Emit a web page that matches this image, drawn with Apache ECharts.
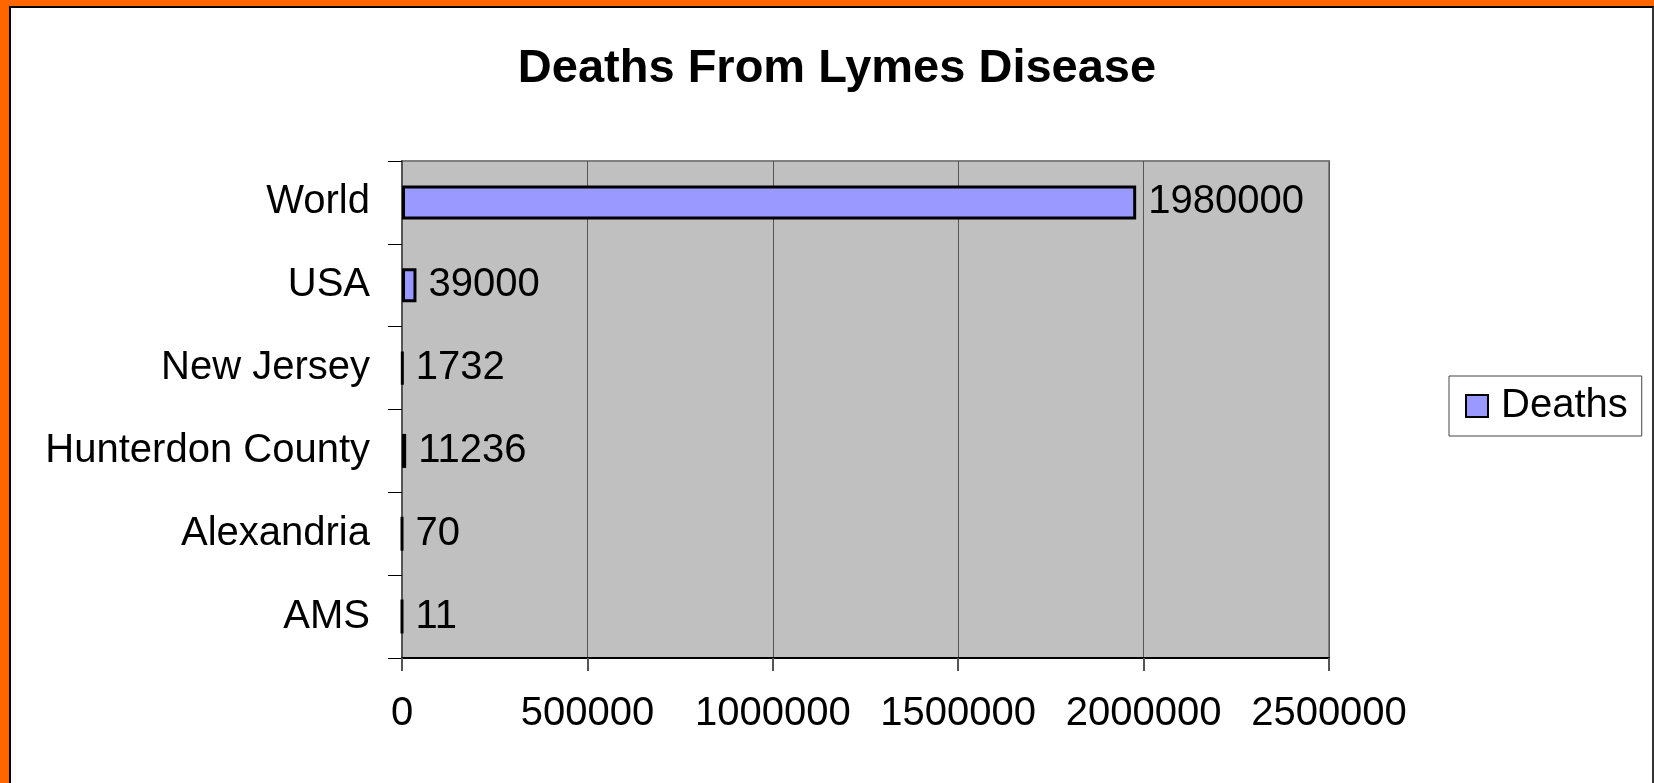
<!DOCTYPE html>
<html lang="en">
<head>
    <meta charset="UTF-8">
    <title>Deaths From Lymes Disease</title>
    <script src="https://cdn.jsdelivr.net/npm/echarts@6/dist/echarts.min.js"></script>
    <style>
        *{
            margin: 0;
            padding: 0;
        }
        html,body{
            width: 1654px;
            height: 783px;
            overflow: hidden;
            background: #fff;
        }
        .frame{
            position: absolute;
            left: 0;
            top: 0;
            width: 1654px;
            height: 783px;
            box-sizing: border-box;
            border-left: 9px solid #ff6600;
            border-top: 6px solid #ff6600;
        }
        .inner{
            width: 100%;
            height: 100%;
            box-sizing: border-box;
            border-left: 2px solid #000;
            border-top: 2px solid #000;
            border-right: 2px solid #333;
        }
        .container{
            position: absolute;
            left: 0;
            top: 0;
            width: 1654px;
            height: 783px;
        }
    </style>
</head>
<body>
<div class="frame"><div class="inner"></div></div>
<div class="container"></div>
<script>
    let categories = ['World', 'USA', 'New Jersey', 'Hunterdon County', 'Alexandria', 'AMS'];
    let deaths = [1980000, 39000, 1732, 11236, 70, 11];
    let xTicks = [0, 500000, 1000000, 1500000, 2000000, 2500000];

    let font = '"Liberation Sans", Arial, sans-serif';
    let chart = echarts.init(document.querySelector('.container'));

    let option = {
        animation: false,
        textStyle: {fontFamily: font},
        title: {
            text: 'Deaths From Lymes Disease',
            left: 832,
            textAlign: 'center',
            top: 41,
            textStyle: {
                fontFamily: font,
                fontWeight: 'bold',
                fontSize: 47,
                color: '#000'
            }
        },
        legend: {
            data: ['Deaths'],
            left: 1449,
            top: 376,
            orient: 'vertical',
            padding: [10, 14, 10, 16],
            borderColor: '#444',
            borderWidth: 1,
            backgroundColor: '#fff',
            icon: 'rect',
            itemWidth: 22,
            itemHeight: 22,
            itemStyle: {
                borderColor: '#000',
                borderWidth: 2
            },
            textStyle: {
                fontFamily: font,
                fontSize: 40,
                color: '#000',
                padding: [0, 0, 0, 8]
            }
        },
        grid: {
            left: 402,
            top: 161,
            width: 927,
            height: 497,
            show: true,
            backgroundColor: '#c0c0c0',
            borderColor: '#808080',
            borderWidth: 2
        },
        xAxis: {
            type: 'value',
            min: xTicks[0],
            max: xTicks[xTicks.length - 1],
            interval: xTicks[1] - xTicks[0],
            axisLine: {show: true, lineStyle: {color: '#000', width: 2}},
            axisTick: {show: true, length: 13, lineStyle: {color: '#555', width: 2}},
            axisLabel: {
                fontFamily: font,
                fontSize: 40,
                color: '#000',
                margin: 36,
                formatter: v => String(v)
            },
            splitLine: {show: true, lineStyle: {color: '#555', width: 1}}
        },
        yAxis: {
            type: 'category',
            data: categories,
            inverse: true,
            axisLine: {show: true, lineStyle: {color: '#555', width: 2}},
            axisTick: {show: true, length: 14, lineStyle: {color: '#000', width: 1}},
            axisLabel: {
                fontFamily: font,
                fontSize: 40,
                color: '#000',
                margin: 32
            }
        },
        series: [{
            name: 'Deaths',
            type: 'bar',
            data: deaths,
            barWidth: 34,
            itemStyle: {
                color: '#9999ff',
                borderColor: '#000',
                borderWidth: 3
            },
            label: {
                show: true,
                position: 'right',
                distance: 12,
                fontFamily: font,
                fontSize: 40,
                color: '#000'
            }
        }]
    };
    chart.setOption(option);
</script>
</body>
</html>
